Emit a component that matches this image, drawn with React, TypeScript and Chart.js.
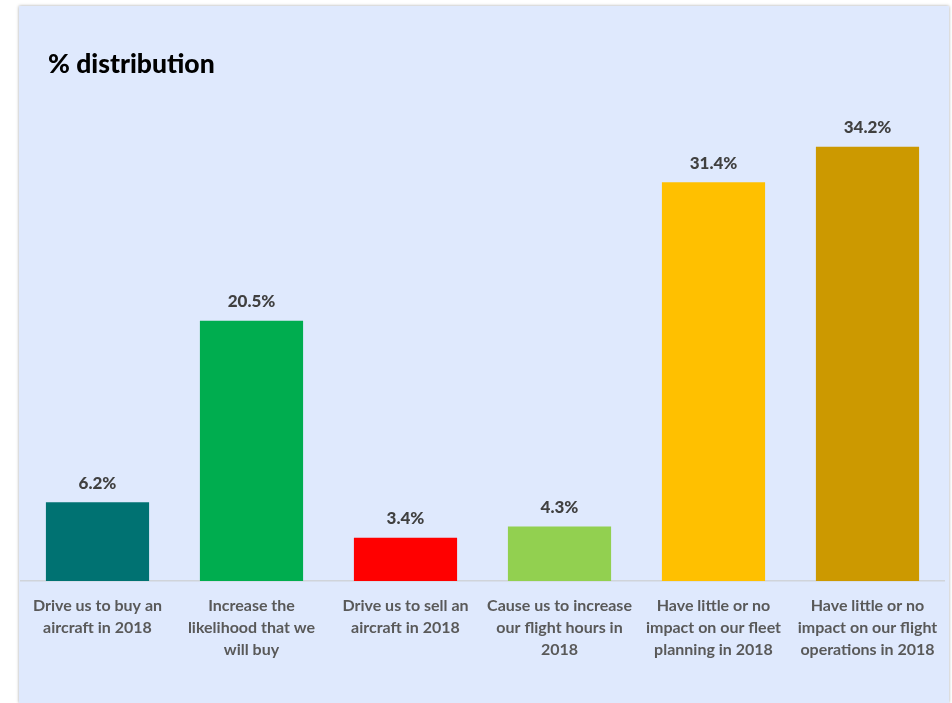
import React, { useEffect, useRef } from "react";
import { Chart, registerables } from "chart.js";

Chart.register(...registerables);

const categories: string[][] = [
  ["Drive us to buy an", "aircraft in 2018"],
  ["Increase the", "likelihood that we", "will buy"],
  ["Drive us to sell an", "aircraft in 2018"],
  ["Cause us to increase", "our flight hours in", "2018"],
  ["Have little or no", "impact on our fleet", "planning in 2018"],
  ["Have little or no", "impact on our flight", "operations in 2018"],
];
const values: number[] = [6.2, 20.5, 3.4, 4.3, 31.4, 34.2];
const barColors: string[] = ["#007272", "#00ad4f", "#ff0000", "#92d050", "#ffc000", "#cc9900"];
const titleText = "% distribution";

const FONT = "Lato, 'Open Sans', sans-serif";

const overlay = {
  id: "overlay",
  afterDatasetsDraw(chart: any) {
    const ctx = chart.ctx;
    ctx.save();
    // title
    ctx.font = `900 26.5px ${FONT}`;
    ctx.fillStyle = "#000000";
    ctx.textAlign = "left";
    ctx.textBaseline = "alphabetic";
    ctx.fillText(titleText, 29, 67);
    // data labels
    const meta = chart.getDatasetMeta(0);
    ctx.font = `900 17px ${FONT}`;
    ctx.fillStyle = "#404040";
    ctx.textAlign = "center";
    ctx.textBaseline = "middle";
    meta.data.forEach((bar: any, i: number) => {
      ctx.fillText(values[i].toFixed(1) + "%", bar.x, bar.y - 19);
    });
    ctx.restore();
  },
};

export default function App() {
  const ref = useRef<HTMLCanvasElement>(null);
  useEffect(() => {
    if (!ref.current) return;
    const chart = new Chart(ref.current, {
      type: "bar",
      data: {
        labels: categories,
        datasets: [
          {
            data: values,
            backgroundColor: barColors,
            borderWidth: 0,
            categoryPercentage: 1,
            barPercentage: 0.67,
          },
        ],
      },
      options: {
        animation: false,
        responsive: false,
        maintainAspectRatio: false,
        layout: { padding: { top: 67, left: 1.5, right: 4.5, bottom: 12 } },
        plugins: {
          legend: { display: false },
          title: { display: false },
          tooltip: { enabled: false },
        },
        scales: {
          x: {
            grid: { display: false, drawTicks: false, tickLength: 0 },
            border: { display: true, color: "#d0d4da", width: 1.5 },
            ticks: {
              color: "#595959",
              font: { family: FONT, size: 16, weight: "bold", lineHeight: 1.375 },
              padding: 14,
              maxRotation: 0,
              autoSkip: false,
            },
            afterFit: (scale: any) => {
              scale.height = 110;
              scale.paddingLeft = 0;
              scale.paddingRight = 0;
            },
          },
          y: {
            display: false,
            min: 0,
            max: 40,
          },
        },
      },
      plugins: [overlay],
    });
    return () => chart.destroy();
  }, []);

  return (
    <div style={{ position: "fixed", left: 0, top: 0, width: 952, height: 703, background: "#ffffff", overflow: "hidden" }}>
      <div
        style={{
          position: "absolute",
          left: 19,
          top: 6,
          width: 930,
          height: 697,
          background: "#dfe9fd",
          boxShadow: "0 0 3px rgba(0,0,0,0.35)",
        }}
      >
        <canvas ref={ref} width={930} height={697} style={{ display: "block" }} />
      </div>
    </div>
  );
}
